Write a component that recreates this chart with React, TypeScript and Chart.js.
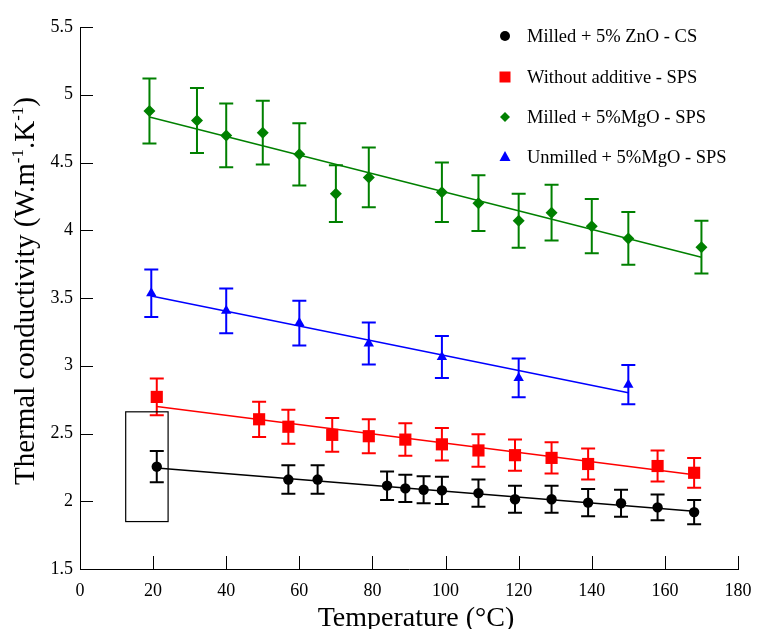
import React, { useEffect, useRef } from "react";
import { Chart, registerables } from "chart.js";

Chart.register(...registerables);

// ---------- data ----------
const xTickStep = 20;
const yTickStep = 0.5;

const blackLabel = "Milled + 5% ZnO - CS";
const blackX = [21, 57, 65, 84, 89, 94, 99, 109, 119, 129, 139, 148, 158, 168];
const blackY = [2.255, 2.16, 2.16, 2.115, 2.095, 2.085, 2.08, 2.06, 2.015, 2.015, 1.99, 1.985, 1.955, 1.92];
const blackErr = [0.115, 0.105, 0.105, 0.105, 0.1, 0.1, 0.1, 0.1, 0.1, 0.1, 0.1, 0.1, 0.095, 0.09];
const blackFitX = [21, 168];
const blackFitY = [2.246, 1.927];

const redLabel = "Without additive - SPS";
const redX = [21, 49, 57, 69, 79, 89, 99, 109, 119, 129, 139, 158, 168];
const redY = [2.77, 2.605, 2.55, 2.49, 2.48, 2.455, 2.42, 2.375, 2.34, 2.32, 2.275, 2.26, 2.21];
const redErr = [0.135, 0.13, 0.125, 0.125, 0.125, 0.12, 0.12, 0.12, 0.115, 0.115, 0.115, 0.115, 0.11];
const redFitX = [21, 168];
const redFitY = [2.7, 2.195];

const greenLabel = "Milled + 5%MgO - SPS";
const greenX = [19, 32, 40, 50, 60, 70, 79, 99, 109, 120, 129, 140, 150, 170];
const greenY = [4.88, 4.81, 4.7, 4.72, 4.56, 4.27, 4.39, 4.28, 4.2, 4.07, 4.13, 4.03, 3.94, 3.875];
const greenErr = [0.24, 0.24, 0.235, 0.235, 0.23, 0.21, 0.22, 0.22, 0.205, 0.2, 0.205, 0.2, 0.195, 0.195];
const greenFitX = [19, 170];
const greenFitY = [4.836, 3.8];

const blueLabel = "Unmilled + 5%MgO - SPS";
const blueX = [19.5, 40, 60, 79, 99, 120, 150];
const blueY = [3.535, 3.405, 3.315, 3.165, 3.065, 2.91, 2.86];
const blueErr = [0.175, 0.165, 0.165, 0.155, 0.155, 0.143, 0.145];
const blueFitX = [19.5, 150];
const blueFitY = [3.515, 2.8];

// highlighted box around first ZnO point (data coords)
const boxX = [12.5, 24.1];
const boxY = [1.85, 2.66];

const xTitle = "Temperature (°C)";
const yTitleParts = ["Thermal conductivity (W.m", "-1", ".K", "-1", ")"];

// ---------- helpers ----------
const SERIF = "'Liberation Serif', 'Times New Roman', serif";
const pts = (xs: number[], ys: number[]) => xs.map((x, i) => ({ x, y: ys[i] }));

const series = [
  { label: blackLabel, color: "#000000", style: "circle", radius: 5.2, x: blackX, y: blackY, err: blackErr, fx: blackFitX, fy: blackFitY },
  { label: redLabel, color: "#ff0000", style: "rect", radius: 8.6, x: redX, y: redY, err: redErr, fx: redFitX, fy: redFitY },
  { label: greenLabel, color: "#008000", style: "rectRot", radius: 6, x: greenX, y: greenY, err: greenErr, fx: greenFitX, fy: greenFitY },
  { label: blueLabel, color: "#0000ff", style: "triangle", radius: 6, x: blueX, y: blueY, err: blueErr, fx: blueFitX, fy: blueFitY },
];

const errorBarPlugin = {
  id: "errorBars",
  beforeDatasetsDraw(chart: any) {
    const { ctx, scales } = chart;
    const xs = scales.x, ys = scales.y;
    ctx.save();
    series.forEach((s) => {
      ctx.strokeStyle = s.color;
      ctx.lineWidth = 2;
      s.x.forEach((xv, i) => {
        const px = xs.getPixelForValue(xv);
        const top = ys.getPixelForValue(s.y[i] + s.err[i]);
        const bot = ys.getPixelForValue(s.y[i] - s.err[i]);
        ctx.beginPath();
        ctx.moveTo(px, top);
        ctx.lineTo(px, bot);
        ctx.moveTo(px - 7, top);
        ctx.lineTo(px + 7, top);
        ctx.moveTo(px - 7, bot);
        ctx.lineTo(px + 7, bot);
        ctx.stroke();
      });
    });
    // box
    ctx.strokeStyle = "#000";
    ctx.lineWidth = 1.2;
    const bx0 = xs.getPixelForValue(boxX[0]);
    const bx1 = xs.getPixelForValue(boxX[1]);
    const by0 = ys.getPixelForValue(boxY[1]);
    const by1 = ys.getPixelForValue(boxY[0]);
    ctx.strokeRect(bx0, by0, bx1 - bx0, by1 - by0);
    ctx.restore();
  },
};

const decorPlugin = {
  id: "decor",
  afterDraw(chart: any) {
    const { ctx, scales, chartArea } = chart;
    const xs = scales.x, ys = scales.y;
    ctx.save();
    // inner ticks
    ctx.strokeStyle = "#000";
    ctx.lineWidth = 1;
    xs.ticks.forEach((t: any) => {
      const px = Math.round(xs.getPixelForValue(t.value)) + 0.5;
      ctx.beginPath();
      ctx.moveTo(px, chartArea.bottom);
      ctx.lineTo(px, chartArea.bottom - 13);
      ctx.stroke();
    });
    ys.ticks.forEach((t: any) => {
      const py = Math.round(ys.getPixelForValue(t.value)) + 0.5;
      ctx.beginPath();
      ctx.moveTo(chartArea.left, py);
      ctx.lineTo(chartArea.left + 13, py);
      ctx.stroke();
    });

    ctx.fillStyle = "#000";
    ctx.textBaseline = "alphabetic";

    // x title
    ctx.font = `28px ${SERIF}`;
    ctx.textAlign = "center";
    ctx.fillText(xTitle, (chartArea.left + chartArea.right) / 2 + 7, 626);

    // y title with superscripts
    const big = 29, small = 17;
    const fontBig = `${big}px ${SERIF}`;
    const fontSmall = `${small}px ${SERIF}`;
    let total = 0;
    yTitleParts.forEach((p, i) => {
      ctx.font = i % 2 === 1 ? fontSmall : fontBig;
      total += ctx.measureText(p).width;
    });
    const cy = (chartArea.top + chartArea.bottom) / 2 - 7;
    ctx.translate(34, cy);
    ctx.rotate(-Math.PI / 2);
    let cx = -total / 2;
    ctx.textAlign = "left";
    yTitleParts.forEach((p, i) => {
      const sup = i % 2 === 1;
      ctx.font = sup ? fontSmall : fontBig;
      ctx.fillText(p, cx, sup ? -11 : 0);
      cx += ctx.measureText(p).width;
    });
    ctx.setTransform(1, 0, 0, 1, 0, 0);

    // legend
    const lx = 505, tx = 527;
    const rows = [36, 77, 117, 157];
    ctx.font = `18.5px ${SERIF}`;
    ctx.textBaseline = "middle";
    ctx.textAlign = "left";
    series.forEach((s, i) => {
      const y = rows[i];
      ctx.fillStyle = s.color;
      ctx.beginPath();
      if (s.style === "circle") {
        ctx.arc(lx, y, 5, 0, Math.PI * 2);
      } else if (s.style === "rect") {
        ctx.rect(lx - 5.5, y - 5.5, 11, 11);
      } else if (s.style === "rectRot") {
        ctx.moveTo(lx, y - 5);
        ctx.lineTo(lx + 5, y);
        ctx.lineTo(lx, y + 5);
        ctx.lineTo(lx - 5, y);
        ctx.closePath();
      } else {
        ctx.moveTo(lx, y - 6);
        ctx.lineTo(lx + 5.5, y + 4);
        ctx.lineTo(lx - 5.5, y + 4);
        ctx.closePath();
      }
      ctx.fill();
      ctx.fillStyle = "#000";
      ctx.fillText(s.label, tx, y + 1);
    });
    ctx.restore();
  },
};

export default function App() {
  const ref = useRef<HTMLCanvasElement | null>(null);
  useEffect(() => {
    if (!ref.current) return;
    const datasets: any[] = [];
    series.forEach((s) => {
      datasets.push({
        type: "line",
        label: s.label + " fit",
        data: pts(s.fx, s.fy),
        borderColor: s.color,
        borderWidth: 1.5,
        pointRadius: 0,
        fill: false,
        order: 2,
      });
      datasets.push({
        type: "scatter",
        label: s.label,
        data: pts(s.x, s.y),
        backgroundColor: s.color,
        borderColor: s.color,
        borderWidth: 0,
        pointStyle: s.style,
        pointRadius: s.radius,
        showLine: false,
        order: 1,
      });
    });
    const chart = new Chart(ref.current, {
      type: "scatter",
      data: { datasets },
      options: {
        animation: false,
        responsive: false,
        devicePixelRatio: 1,
        layout: { padding: { left: 0, right: 21, top: 27, bottom: 0 } },
        plugins: { legend: { display: false }, tooltip: { enabled: false } },
        scales: {
          x: {
            type: "linear",
            min: 0,
            max: 180,
            afterFit: (s: any) => { s.height = 60; s.paddingLeft = 0; s.paddingRight = 0; },
            ticks: { stepSize: xTickStep, color: "#000", padding: 11, font: { family: SERIF, size: 18 }, callback: (v: any) => String(v) },
            grid: { display: true, drawOnChartArea: false, drawTicks: false },
            border: { display: true, color: "#000", width: 1 },
          },
          y: {
            type: "linear",
            min: 1.5,
            max: 5.5,
            afterFit: (s: any) => { s.width = 80; s.paddingTop = 0; s.paddingBottom = 0; },
            ticks: { stepSize: yTickStep, color: "#000", padding: 7, font: { family: SERIF, size: 18 }, callback: (v: any) => String(v) },
            grid: { display: true, drawOnChartArea: false, drawTicks: false },
            border: { display: true, color: "#000", width: 1 },
          },
        },
      },
      plugins: [errorBarPlugin, decorPlugin],
    } as any);
    return () => chart.destroy();
  }, []);
  return (
    <div style={{ position: "fixed", left: 0, top: 0, width: 759, height: 629, background: "#fff" }}>
      <canvas ref={ref} width={759} height={629} />
    </div>
  );
}
